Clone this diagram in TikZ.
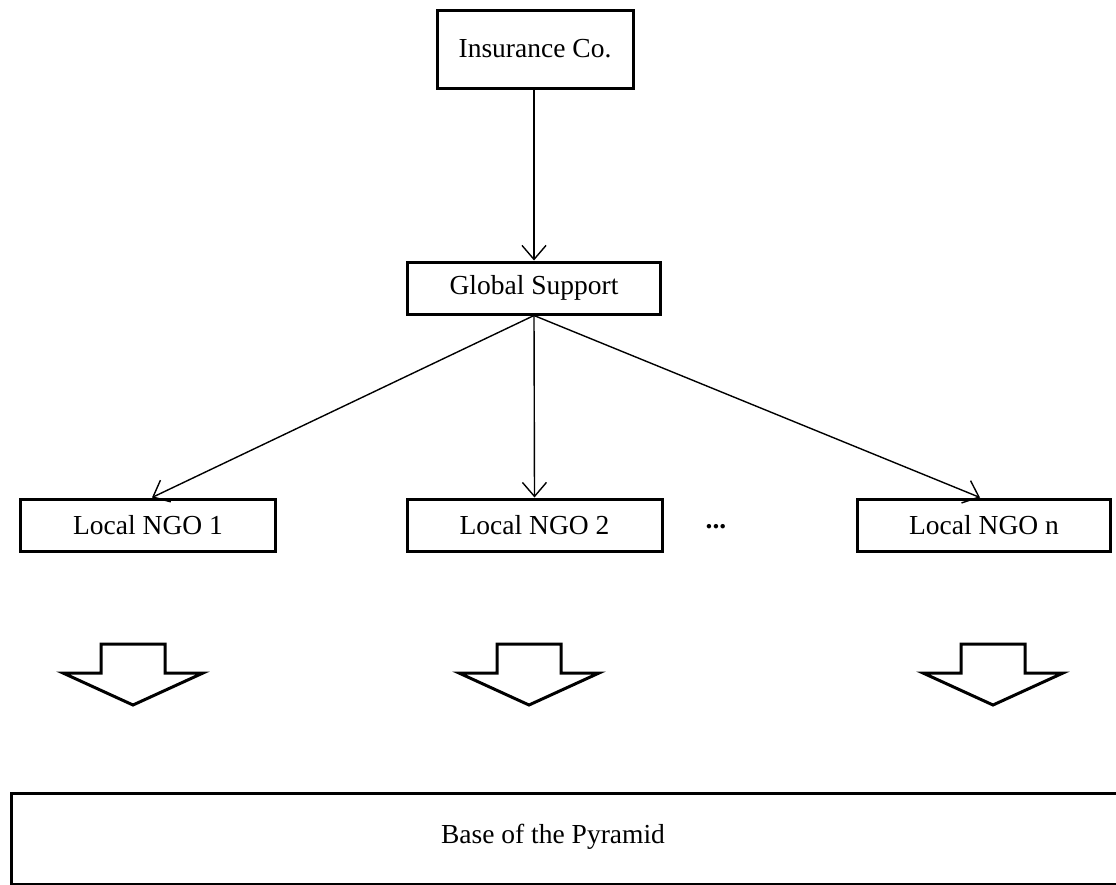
\documentclass[tikz,border=0pt]{standalone}
\usepackage{fontspec}
\setmainfont{Liberation Serif}
\usetikzlibrary{arrows.meta}
\tikzset{
  box/.style={draw, line width=3pt, rectangle, inner sep=0pt, font=\fontsize{27.5}{33}\selectfont},
  conn/.style={line width=1.4pt, -{Straight Barb[length=14pt,width=24pt,line width=1.4pt]}},
  blockarrow/.style={draw, line width=3pt, fill=white, line join=miter}
}
\begin{document}
\begin{tikzpicture}[x=1pt,y=-1pt]
\useasboundingbox (0,0) rectangle (1116,884);
\clip (0,0) rectangle (1116,884);
\node[box, minimum width=196pt, minimum height=78pt] (ins) at (535,49) {Insurance Co.};
\node[box, minimum width=253pt, minimum height=52pt] (gs) at (534,288) {Global Support};
\node[box, minimum width=255pt, minimum height=52pt] (n1) at (148,525) {Local NGO 1};
\node[box, minimum width=255pt, minimum height=52pt] (n2) at (534.5,525) {Local NGO 2};
\node[box, minimum width=253pt, minimum height=52pt] (nn) at (984,525) {Local NGO n};
\node[font=\fontsize{27.5}{33}\selectfont\bfseries] (dots) at (716,527) {...};
\node[box, minimum width=1120pt, minimum height=91pt, anchor=north west] (base) at (10,792) {};
\node[font=\fontsize{27.5}{33}\selectfont] (basetxt) at (553,837) {Base of the Pyramid};
\draw[conn] (ins.south -| gs.north) -- (gs.north);
\draw[conn] (gs.south) -- ([xshift=4pt]n1.north);
\draw[conn] (gs.south) -- (n2.north);
\draw[conn] (gs.south) -- ([xshift=-4pt]nn.north);
\foreach \cx/\nm in {133/a1,529/a2,993/a3}{
  \coordinate (\nm) at (\cx,705);
  \draw[blockarrow] (\nm) -- ++(-70,-32) -- ++(38,0) -- ++(0,-29) -- ++(64,0) -- ++(0,29) -- ++(38,0) -- cycle;
}
\end{tikzpicture}
\end{document}
